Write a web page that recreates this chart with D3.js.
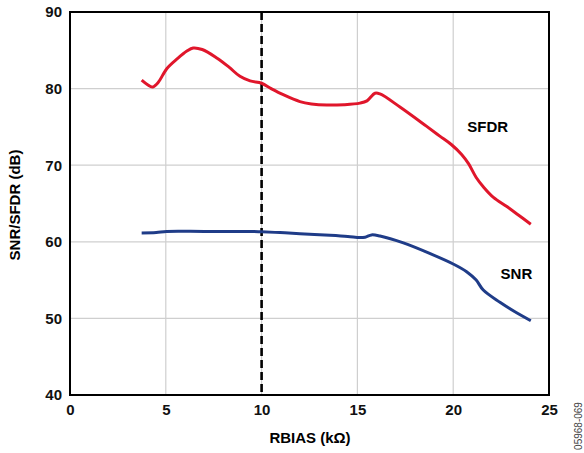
<!DOCTYPE html>
<html><head><meta charset="utf-8">
<script src="https://cdn.jsdelivr.net/npm/d3@7"></script>
<style>
body{margin:0;background:#fff;}
svg{display:block;font-family:Arial,"Liberation Sans",sans-serif;}
</style></head>
<body><svg id="c" width="584" height="453"></svg>
<script>
const xTicks = [0,5,10,15,20,25];
const yTicks = [40,50,60,70,80,90];
const sfdrX = [3.74,4.05,4.3,4.6,5.05,5.6,6.1,6.43,6.9,7.66,8.3,8.87,9.4,10.0,10.5,11.13,12.0,12.6,13.4,14.3,15.13,15.5,15.92,16.18,17.22,18.6,19.3,19.9,20.44,20.8,21.2,21.6,22.1,22.8,23.4,24.05];
const sfdrY = [81.1,80.5,80.2,80.8,82.6,83.9,84.9,85.3,85.1,84.0,82.8,81.6,81.0,80.7,80.0,79.2,78.3,78.0,77.85,77.9,78.1,78.4,79.4,79.3,77.6,75.1,73.8,72.7,71.4,70.2,68.4,67.1,65.8,64.6,63.5,62.3];
const snrX = [3.74,4.5,5.05,7.0,9.4,10.0,10.96,12.0,13.57,14.5,15.13,15.4,15.74,16.18,17.4,18.8,20.0,20.7,21.2,21.57,22.44,23.2,24.05];
const snrY = [61.15,61.2,61.35,61.35,61.35,61.3,61.2,61.05,60.85,60.7,60.55,60.6,60.9,60.75,59.85,58.45,57.1,56.1,55.0,53.7,52.1,50.9,49.7];
const refX = 10;
const seriesLabels = ["SFDR","SNR"];

const svg = d3.select("#c");
const L=70,R=549,T=12,B=395;
const x = d3.scaleLinear().domain([0,25]).range([L,R]);
const y = d3.scaleLinear().domain([40,90]).range([B,T]);

svg.append("g").selectAll("line").data(xTicks.slice(1,-1)).join("line")
  .attr("x1",d=>x(d)).attr("x2",d=>x(d)).attr("y1",T).attr("y2",B)
  .attr("stroke","#cfcfcf").attr("stroke-width",1.2);
svg.append("g").selectAll("line").data(yTicks.slice(1,-1)).join("line")
  .attr("y1",d=>y(d)).attr("y2",d=>y(d)).attr("x1",L).attr("x2",R)
  .attr("stroke","#cfcfcf").attr("stroke-width",1.2);

const xa = svg.append("g").attr("transform",`translate(0,${B})`)
  .call(d3.axisBottom(x).tickValues(xTicks).tickSize(0).tickPadding(9));
const ya = svg.append("g").attr("transform",`translate(${L},0)`)
  .call(d3.axisLeft(y).tickValues(yTicks).tickSize(0).tickPadding(8));
[xa,ya].forEach(a=>{a.select(".domain").remove();
  a.selectAll("text").attr("font-size",15).attr("font-weight","bold").attr("fill","#111")
   .attr("font-family","Arial,'Liberation Sans',sans-serif");});

svg.append("rect").attr("x",L).attr("y",T).attr("width",R-L).attr("height",B-T)
  .attr("fill","none").attr("stroke","#000").attr("stroke-width",2);

svg.append("line").attr("x1",x(refX)).attr("x2",x(refX)).attr("y1",T).attr("y2",B)
  .attr("stroke","#000").attr("stroke-width",2.6).attr("stroke-dasharray","8,4");

const line = d3.line().curve(d3.curveCatmullRom.alpha(0.5));
svg.append("path").attr("d",line(sfdrX.map((v,i)=>[x(v),y(sfdrY[i])])))
  .attr("fill","none").attr("stroke","#e0162b").attr("stroke-width",3).attr("stroke-linejoin","round");
svg.append("path").attr("d",line(snrX.map((v,i)=>[x(v),y(snrY[i])])))
  .attr("fill","none").attr("stroke","#1f3c88").attr("stroke-width",3).attr("stroke-linejoin","round");

svg.append("text").attr("x",x(21.8)).attr("y",y(74.3)).attr("text-anchor","middle")
  .attr("font-size",15).attr("font-weight","bold").text(seriesLabels[0]);
svg.append("text").attr("x",x(23.3)).attr("y",y(55.2)).attr("text-anchor","middle")
  .attr("font-size",15).attr("font-weight","bold").text(seriesLabels[1]);

svg.append("text").attr("transform","translate(20,205) rotate(-90)").attr("text-anchor","middle")
  .attr("font-size",15).attr("font-weight","bold").text("SNR/SFDR (dB)");
svg.append("text").attr("x",310).attr("y",443).attr("text-anchor","middle")
  .attr("font-size",15).attr("font-weight","bold").text("RBIAS (kΩ)");
svg.append("text").attr("transform","translate(582,426) rotate(-90)").attr("text-anchor","middle")
  .attr("font-size",10).attr("fill","#444").text("05968-069");
</script></body></html>
